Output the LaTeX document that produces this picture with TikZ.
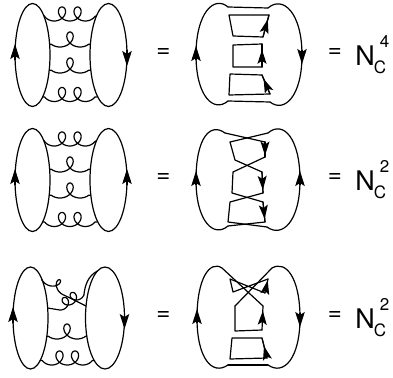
\documentclass[tikz,border=0pt]{standalone}
\usepackage{fontspec}
\setmainfont{TeX Gyre Heros}
\usetikzlibrary{arrows.meta,decorations.markings}
\tikzset{
 ln/.style={line width=1.2pt, line join=round, line cap=round},
 arr/.style={ln, -{Stealth[length=15pt,width=9.5pt,inset=3pt]}},
 midarr/.style={ln, postaction={decorate}, decoration={markings, mark=at position #1 with {\arrow{Stealth[length=14pt,width=9pt,inset=3pt]}}}},
 midarr/.default=0.8,
 eqs/.style={font=\fontsize{24}{24}\selectfont, inner sep=0pt},
 bigN/.style={font=\fontsize{27}{27}\selectfont, inner sep=0pt},
 smallidx/.style={font=\fontsize{17}{17}\selectfont, inner sep=0pt},
}
% gluon: xc yc r d t0 t1 start end
\newcommand\gl[8]{\draw[ln] (#7) -- plot[domain=#5:#6, samples=100, smooth, variable=\t] ({#1+#3*\t-#4*sin(\t r)},{#2-#4*cos(\t r)}) -- (#8);}
\newcommand\leftdiag[1]{%
 \draw[ln] (32.5,0) ellipse [x radius=17.5pt, y radius=51.5pt];
 \draw[ln] (108.5,0) ellipse [x radius=18.5pt, y radius=51.5pt];
 \draw[arr] (15,5) -- (15,-11);
 \draw[arr] (127,-5*#1) -- (127,11*#1);
 \gl{62}{-41}{2.48}{7}{-4.34}{10.62}{43.7,-39.5}{96.4,-39.2}
 \gl{70}{-15.5}{3.2}{7.5}{-4.04}{4.04}{49.6,-10.8}{90.4,-10.8}
 \gl{70}{10.5}{3.2}{7.5}{-4.04}{4.04}{49.2,15.2}{90.8,15.2}
 \gl{62}{39.5}{2.48}{7}{-4.34}{10.62}{42.6,41.8}{97.8,41.8}
}
\newcommand\rhs[2]{%
 \node[eqs] (#1a) at (163.5,-2) {=};
 \node[eqs] (#1b) at (335,-2) {=};
 \node[bigN] (#1n) at (365,1) {N};
 \node[smallidx] (#1c) at (380,12) {C};
 \node[smallidx] (#1p) at (384.5,-14) {#2};
}
\begin{document}
\begin{tikzpicture}[x=1pt,y=-1pt]
\useasboundingbox (0,0) rectangle (393,377);
% ---------- row 1
\begin{scope}[shift={(0,55)}]
 \leftdiag{1}
 \draw[ln] (228,-48) .. controls (214,-60) and (196,-42) .. (196,0) .. controls (196,42) and (214,58) .. (228,46);
 \draw[ln] (228,-48) -- (268,-47);
 \draw[ln] (228,46) -- (270,47);
 \draw[ln] (268,-47) .. controls (283,-60) and (302,-42) .. (302,0) .. controls (302,42) and (284,58) .. (270,47);
 \draw[arr] (196,5) -- (196,-9);
 \draw[arr] (302,-5) -- (302,9);
 \draw[ln] (229,-40) -- (269,-40) -- (263,-18) -- (233,-19) -- cycle;
 \draw[midarr] (263,-18) -- (269,-40);
 \draw[ln] (233,-10) -- (262,-11) -- (262,12) -- (233,12) -- cycle;
 \draw[midarr=0.75] (262,12) -- (262,-11);
 \draw[ln] (230,19) -- (262,20) -- (270,39) -- (229,40) -- cycle;
 \draw[midarr] (270,39) -- (262,20);
 \rhs{r1}{4}
\end{scope}
% ---------- row 2
\begin{scope}[shift={(0,180)}]
 \leftdiag{-1}
 \draw[ln] (225,-47) .. controls (210,-58) and (196,-42) .. (196,0) .. controls (196,42) and (214,58) .. (228,46);
 \draw[ln] (225,-47) -- (265,-38);
 \draw[ln] (230,-38) -- (268,-47);
 \draw[ln] (268,-47) .. controls (283,-60) and (300,-42) .. (300,0) .. controls (300,42) and (282,58) .. (267,47);
 \draw[arr] (196,5) -- (196,-9);
 \draw[arr] (300,5) -- (300,-9);
 \draw[ln] (230,-38) -- (235,-20) -- (262,-8) -- (263,13) -- (230,22) -- (228,42) -- (267,47);
 \draw[ln] (265,-38) -- (265,-23) -- (233,-8) -- (232,13) -- (263,22) -- (265,42) -- (228,46);
 \draw[midarr=0.9] (265,-38) -- (265,-23);
 \draw[midarr=0.85] (262,-8) -- (263,13);
 \draw[midarr=0.85] (263,22) -- (265,42);
 \rhs{r2}{2}
\end{scope}
% ---------- row 3
\begin{scope}[shift={(0,318)}]
 \draw[ln] (30.5,0) ellipse [x radius=17.5pt, y radius=51pt];
 \draw[ln] (105,0) ellipse [x radius=19.5pt, y radius=51pt];
 \draw[arr] (13,5) -- (13,-11);
 \draw[arr] (124.5,-5) -- (124.5,11);
 \gl{67}{13.5}{3.2}{7.5}{-4.04}{4.04}{46.8,18.2}{86.8,18.2}
 \gl{59.5}{40}{2.47}{7}{-4.34}{10.62}{40.2,42.5}{94.2,42.5}
 \coordinate (A0) at (42,-38.6);
 \coordinate (A1) at (86,-12);
 \coordinate (B0) at (47.7,-10);
 \begin{scope}[shift={(57,-33.5)}, rotate=-32]
  \draw[ln] (A0) -- plot[domain=-3.9:3.5, samples=80, smooth, variable=\t] ({3*\t-5.5*sin(\t r)},{-5.5*cos(\t r)}) -- (A1);
 \end{scope}
 \begin{scope}[shift={(66,-16)}, rotate=32]
  \draw[ln] (B0) -- plot[domain=-3.94:10.22, samples=120, smooth, variable=\t] ({1.5*\t-5*sin(\t r)},{-5*cos(\t r)});
 \end{scope}
 \draw[ln] (83.9,-23) .. controls (85,-33) and (88,-42) .. (97.4,-47);
 % middle
 \draw[ln] (228,47) .. controls (212,58) and (197,40) .. (197,0) .. controls (197,-40) and (210,-58) .. (222,-50) -- (263,-12);
 \draw[ln] (268,47) .. controls (284,58) and (300,40) .. (300,0) .. controls (300,-40) and (286,-58) .. (272,-50) -- (235,-12);
 \draw[arr] (197,5) -- (197,-9);
 \draw[arr] (300,-5) -- (300,9);
 \draw[ln] (265,-25) -- (230,-39) -- (233,-26) -- (268,-39);
 \draw[midarr=0.9] (265,-25) -- (268,-39);
 \draw[ln] (235,-12) -- (235,13) -- (262,12);
 \draw[midarr=0.8] (262,12) -- (263,-12);
 \draw[ln] (232,20) -- (262,20) -- (267,40) -- (230,41) -- cycle;
 \draw[midarr=0.6] (267,40) -- (262,20);
 \draw[ln] (228,47) -- (268,47);
 \rhs{r3}{2}
\end{scope}
\end{tikzpicture}
\end{document}
